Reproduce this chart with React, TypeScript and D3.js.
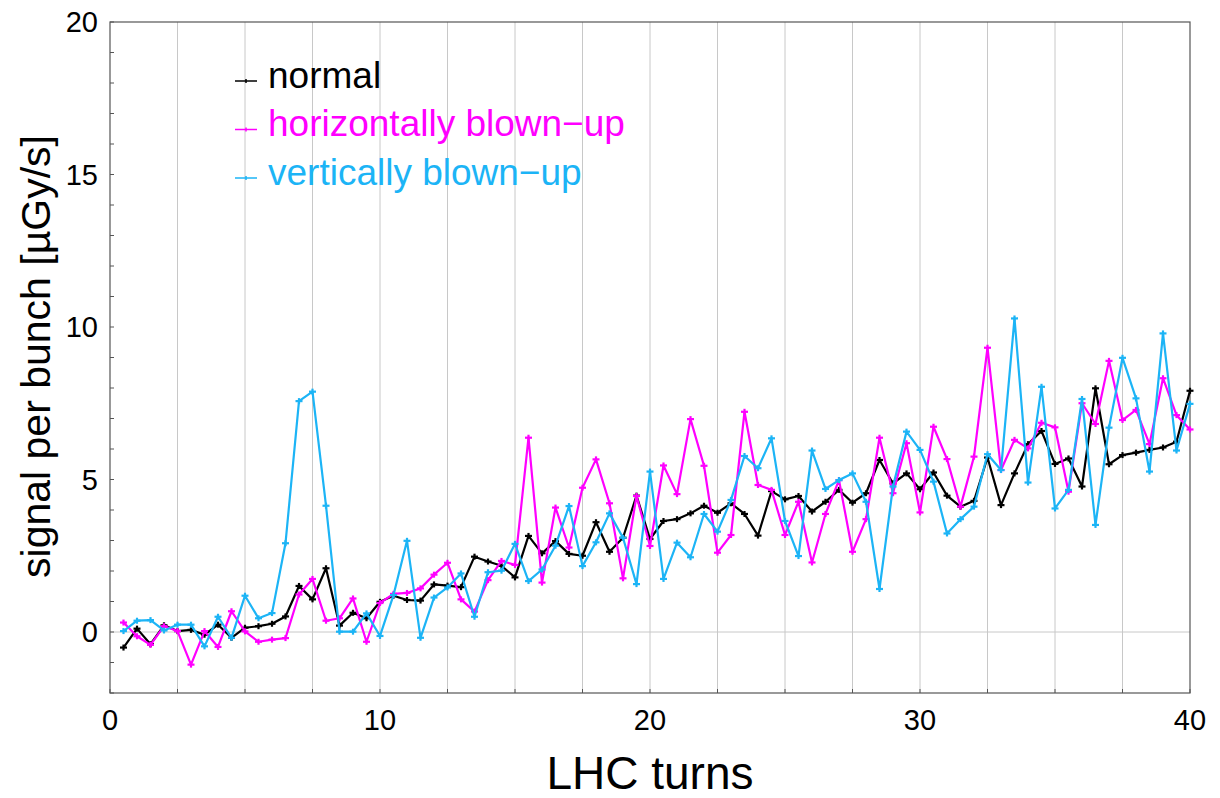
import { useEffect, useRef } from 'react';
import * as d3 from 'd3';

// signal per bunch [µGy/s], one value every half LHC turn (0.5 ... 40)
const normal = [
  -0.51, 0.11, -0.40, 0.22, 0.03, 0.07, -0.09, 0.24, -0.19, 0.14,
  0.19, 0.27, 0.51, 1.51, 1.07, 2.09, 0.21, 0.63, 0.45, 0.99,
  1.19, 1.05, 1.03, 1.56, 1.52, 1.47, 2.47, 2.31, 2.17, 1.79,
  3.15, 2.58, 2.98, 2.56, 2.50, 3.60, 2.63, 3.09, 4.47, 3.05,
  3.64, 3.70, 3.89, 4.14, 3.91, 4.22, 3.87, 3.16, 4.62, 4.35,
  4.46, 3.95, 4.27, 4.66, 4.24, 4.55, 5.64, 4.87, 5.20, 4.68,
  5.23, 4.47, 4.11, 4.30, 5.72, 4.16, 5.20, 6.16, 6.59, 5.51,
  5.69, 4.77, 7.99, 5.50, 5.80, 5.88, 5.97, 6.05, 6.24, 7.91,
];

const horizontal = [
  0.31, -0.14, -0.42, 0.19, 0.03, -1.07, 0.03, -0.49, 0.68, 0.02,
  -0.32, -0.25, -0.20, 1.23, 1.74, 0.37, 0.45, 1.10, -0.32, 0.95,
  1.25, 1.28, 1.43, 1.88, 2.27, 1.07, 0.67, 1.70, 2.33, 2.20,
  6.37, 1.62, 4.08, 2.77, 4.73, 5.66, 4.22, 1.76, 4.46, 2.82,
  5.46, 4.52, 6.98, 5.45, 2.60, 3.18, 7.22, 4.82, 4.66, 3.18,
  4.27, 2.28, 3.87, 4.98, 2.63, 3.70, 6.37, 4.55, 6.19, 3.92,
  6.73, 5.67, 4.11, 5.75, 9.32, 5.31, 6.30, 6.02, 6.86, 6.71,
  4.60, 7.50, 6.82, 8.89, 6.95, 7.28, 6.16, 8.32, 7.11, 6.64,
];

const vertical = [
  0.03, 0.37, 0.39, 0.05, 0.24, 0.24, -0.47, 0.50, -0.19, 1.19,
  0.45, 0.62, 2.91, 7.57, 7.88, 4.14, 0.01, 0.01, 0.61, -0.13,
  1.21, 2.99, -0.19, 1.13, 1.46, 1.92, 0.50, 1.96, 2.01, 2.89,
  1.67, 2.05, 2.83, 4.13, 2.16, 2.94, 3.89, 3.09, 1.57, 5.26,
  1.74, 2.93, 2.45, 3.87, 3.29, 4.33, 5.77, 5.37, 6.35, 3.64,
  2.49, 5.95, 4.69, 4.98, 5.20, 4.27, 1.41, 4.77, 6.57, 5.97,
  4.93, 3.23, 3.70, 4.11, 5.83, 5.31, 10.28, 4.90, 8.04, 4.05,
  4.66, 7.64, 3.51, 6.70, 8.99, 7.66, 5.26, 9.79, 5.95, 7.48,
];

const turns = d3.range(1, 81).map(k => k / 2);

const seriesNames = ['normal', 'horizontally blown-up', 'vertically blown-up'];
const seriesColors = ['#000000', '#ff00ff', '#1cb4f6'];

const xTicks = [0, 10, 20, 30, 40];
const yTicks = [0, 5, 10, 15, 20];

const App = () => {
  const svgRef = useRef<SVGSVGElement>(null);

  useEffect(() => {
    const W = 1220;
    const H = 798;
    const margin = { top: 22, right: 30, bottom: 105, left: 110 };
    const width = W - margin.left - margin.right;
    const height = H - margin.top - margin.bottom;
    const font = '"Liberation Sans", Arial, sans-serif';

    const root = d3.select(svgRef.current);
    root.selectAll('*').remove();
    root.attr('width', W).attr('height', H);

    const svg = root.append('g')
      .attr('transform', `translate(${margin.left},${margin.top})`);

    const x = d3.scaleLinear().domain([0, 40]).range([0, width]);
    const y = d3.scaleLinear().domain([-2, 20]).range([height, 0]);

    // grid
    svg.append('g')
      .selectAll('line')
      .data(d3.range(2.5, 40, 2.5))
      .enter().append('line')
      .attr('x1', d => x(d)).attr('x2', d => x(d))
      .attr('y1', 0).attr('y2', height)
      .attr('stroke', '#c8c8c8')
      .attr('stroke-width', 1);

    svg.append('line')
      .attr('x1', 0).attr('x2', width)
      .attr('y1', y(0)).attr('y2', y(0))
      .attr('stroke', '#c8c8c8')
      .attr('stroke-width', 1);

    // frame
    svg.append('rect')
      .attr('width', width).attr('height', height)
      .attr('fill', 'none')
      .attr('stroke', '#555')
      .attr('stroke-width', 1.2);

    // minor ticks inside the left and bottom axes
    svg.append('g')
      .selectAll('line')
      .data(d3.range(-2, 21, 1))
      .enter().append('line')
      .attr('x1', 0).attr('x2', 4)
      .attr('y1', d => y(d)).attr('y2', d => y(d))
      .attr('stroke', '#555');

    svg.append('g')
      .selectAll('line')
      .data(d3.range(0, 41, 2.5))
      .enter().append('line')
      .attr('x1', d => x(d)).attr('x2', d => x(d))
      .attr('y1', height).attr('y2', height - 4)
      .attr('stroke', '#555');

    // tick labels
    svg.append('g')
      .selectAll('text')
      .data(yTicks)
      .enter().append('text')
      .attr('x', -12)
      .attr('y', d => y(d))
      .attr('dy', '0.35em')
      .attr('text-anchor', 'end')
      .style('font-family', font)
      .style('font-size', '29px')
      .text(d => d);

    svg.append('g')
      .selectAll('text')
      .data(xTicks)
      .enter().append('text')
      .attr('x', d => x(d))
      .attr('y', height + 37)
      .attr('text-anchor', 'middle')
      .style('font-family', font)
      .style('font-size', '29px')
      .text(d => d);

    // axis titles
    svg.append('text')
      .attr('x', width / 2)
      .attr('y', height + 96)
      .attr('text-anchor', 'middle')
      .style('font-family', font)
      .style('font-size', '46px')
      .text('LHC turns');

    svg.append('text')
      .attr('transform', `translate(${-60},${height / 2 - 1}) rotate(-90)`)
      .attr('text-anchor', 'middle')
      .style('font-family', font)
      .style('font-size', '41px')
      .text('signal per bunch [µGy/s]');

    // lines
    const line = d3.line<number>()
      .x((d, i) => x(turns[i]))
      .y(d => y(d));

    [normal, horizontal, vertical].forEach((values, si) => {
      const color = seriesColors[si];
      svg.append('path')
        .datum(values)
        .attr('fill', 'none')
        .attr('stroke', color)
        .attr('stroke-width', 2.2)
        .attr('stroke-linejoin', 'round')
        .attr('d', line);

      const marks = svg.append('g');
      values.forEach((v, i) => {
        const px = x(turns[i]);
        const py = y(v);
        marks.append('line')
          .attr('x1', px - 3.5).attr('x2', px + 3.5)
          .attr('y1', py).attr('y2', py)
          .attr('stroke', color).attr('stroke-width', 2.2);
        marks.append('line')
          .attr('x1', px).attr('x2', px)
          .attr('y1', py - 3).attr('y2', py + 3)
          .attr('stroke', color).attr('stroke-width', 2.2);
      });
    });

    // legend
    const legend = svg.selectAll('.legend')
      .data(seriesNames)
      .enter().append('g')
      .attr('class', 'legend')
      .attr('transform', (d, i) => `translate(125,${53 + i * 48.5})`);

    legend.append('line')
      .attr('x1', 0).attr('x2', 22)
      .attr('y1', 6).attr('y2', 6)
      .attr('stroke', (d, i) => seriesColors[i])
      .attr('stroke-width', 1.5);

    legend.append('line')
      .attr('x1', 11).attr('x2', 11)
      .attr('y1', 4).attr('y2', 8)
      .attr('stroke', (d, i) => seriesColors[i])
      .attr('stroke-width', 1.5);

    legend.append('text')
      .attr('x', 33)
      .attr('dy', '0.35em')
      .style('font-family', font)
      .style('font-size', '37px')
      .style('fill', (d, i) => seriesColors[i])
      .text(d => d.replace('-', '\u2212'));
  }, []);

  return (
    <svg ref={svgRef} style={{ position: 'absolute', left: 0, top: 0 }}></svg>
  );
};

export default App;
